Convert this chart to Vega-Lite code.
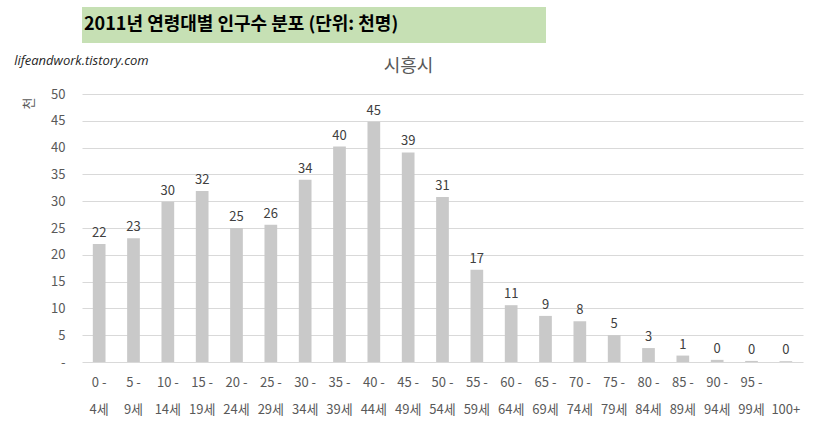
{
  "$schema": "https://vega.github.io/schema/vega-lite/v6.json",
  "padding": {"left": 14, "top": 7, "right": 5, "bottom": 5},
  "background": "white",
  "columns": 1,
  "align": "none",
  "spacing": 11,
  "config": {
    "view": {"stroke": null},
    "font": "Noto Sans CJK KR",
    "axisY": {
      "titleX": -54,
      "titleY": 9,
      "titleAlign": "center",
      "titleBaseline": "middle",
      "titleFontSize": 13,
      "titleFontWeight": "normal",
      "titleColor": "#595959",
      "labelOverlap": false,
      "labelFontSize": 13,
      "labelColor": "#595959",
      "labelPadding": 17,
      "ticks": false,
      "domain": false,
      "gridColor": "#d9d9d9"
    }
  },
  "concat": [
    {
      "width": 464,
      "height": 36,
      "view": {"fill": "#c6e0b4", "stroke": null},
      "data": {"values": [{"heading": "2011년 연령대별 인구수 분포 (단위: 천명)"}]},
      "mark": {"type": "text", "align": "left", "baseline": "middle", "fontSize": 18, "fontWeight": "bold", "color": "#000000", "dx": 2},
      "encoding": {
        "x": {"datum": 0, "type": "quantitative", "scale": {"domain": [0, 1]}, "axis": null},
        "y": {"datum": 0.5, "type": "quantitative", "scale": {"domain": [0, 1]}, "axis": null},
        "text": {"field": "heading"}
      }
    },
    {
      "width": 721,
      "height": 268,
      "title": {"text": "시흥시", "anchor": "middle", "frame": "bounds", "fontSize": 18, "fontWeight": "normal", "color": "#595959", "offset": -21},
      "data": {"values": [
        {"age": "0 - 4세", "pop": 22.0},
        {"age": "5 - 9세", "pop": 23.1},
        {"age": "10 - 14세", "pop": 29.9},
        {"age": "15 - 19세", "pop": 31.9},
        {"age": "20 - 24세", "pop": 25.0},
        {"age": "25 - 29세", "pop": 25.6},
        {"age": "30 - 34세", "pop": 34.0},
        {"age": "35 - 39세", "pop": 40.2},
        {"age": "40 - 44세", "pop": 44.8},
        {"age": "45 - 49세", "pop": 39.1},
        {"age": "50 - 54세", "pop": 30.8},
        {"age": "55 - 59세", "pop": 17.2},
        {"age": "60 - 64세", "pop": 10.6},
        {"age": "65 - 69세", "pop": 8.6},
        {"age": "70 - 74세", "pop": 7.6},
        {"age": "75 - 79세", "pop": 5.0},
        {"age": "80 - 84세", "pop": 2.6},
        {"age": "85 - 89세", "pop": 1.2},
        {"age": "90 - 94세", "pop": 0.4},
        {"age": "95 - 99세", "pop": 0.2},
        {"age": "100+", "pop": 0.15}
      ]},
      "encoding": {
        "x": {
          "field": "age",
          "type": "nominal",
          "scale": {
            "domain": ["0 - 4세", "5 - 9세", "10 - 14세", "15 - 19세", "20 - 24세", "25 - 29세", "30 - 34세", "35 - 39세", "40 - 44세", "45 - 49세", "50 - 54세", "55 - 59세", "60 - 64세", "65 - 69세", "70 - 74세", "75 - 79세", "80 - 84세", "85 - 89세", "90 - 94세", "95 - 99세", "100+"],
            "paddingInner": 0.63,
            "paddingOuter": 0.315
          },
          "axis": {
            "title": null,
            "labelAngle": 0,
            "ticks": false,
            "domain": false,
            "labelFontSize": 13,
            "labelColor": "#595959",
            "labelPadding": 14,
            "labelLineHeight": 27,
            "labelExpr": "length(split(datum.label, ' ')) > 1 ? [split(datum.label, ' ')[0] + ' -', split(datum.label, ' ')[2]] : ['', datum.label]"
          }
        }
      },
      "layer": [
        {
          "mark": {"type": "bar", "color": "#c9c9c9"},
          "encoding": {
            "y": {
              "field": "pop",
              "type": "quantitative",
              "scale": {"domain": [0, 50]},
              "axis": {"title": "천", "values": [0, 5, 10, 15, 20, 25, 30, 35, 40, 45, 50], "labelExpr": "datum.value == 0 ? '-' : datum.label"}
            }
          }
        },
        {
          "mark": {"type": "text", "baseline": "bottom", "dy": -4, "fontSize": 13, "color": "#404040"},
          "encoding": {
            "y": {
              "field": "pop",
              "type": "quantitative",
              "axis": {"title": "천", "values": [0, 5, 10, 15, 20, 25, 30, 35, 40, 45, 50], "labelExpr": "datum.value == 0 ? '-' : datum.label"}
            },
            "text": {"field": "pop", "type": "quantitative", "format": ".0f"}
          }
        },
        {
          "data": {"values": [{"note": "lifeandwork.tistory.com"}]},
          "mark": {"type": "text", "align": "left", "baseline": "middle", "dx": -85, "font": "Open Sans", "fontStyle": "italic", "fontSize": 13, "color": "#262626"},
          "encoding": {
            "x": {"datum": "0 - 4세"},
            "y": {
              "datum": 56.2,
              "type": "quantitative",
              "axis": {"title": "천", "values": [0, 5, 10, 15, 20, 25, 30, 35, 40, 45, 50], "labelExpr": "datum.value == 0 ? '-' : datum.label"}
            },
            "text": {"field": "note"}
          }
        }
      ]
    }
  ]
}
